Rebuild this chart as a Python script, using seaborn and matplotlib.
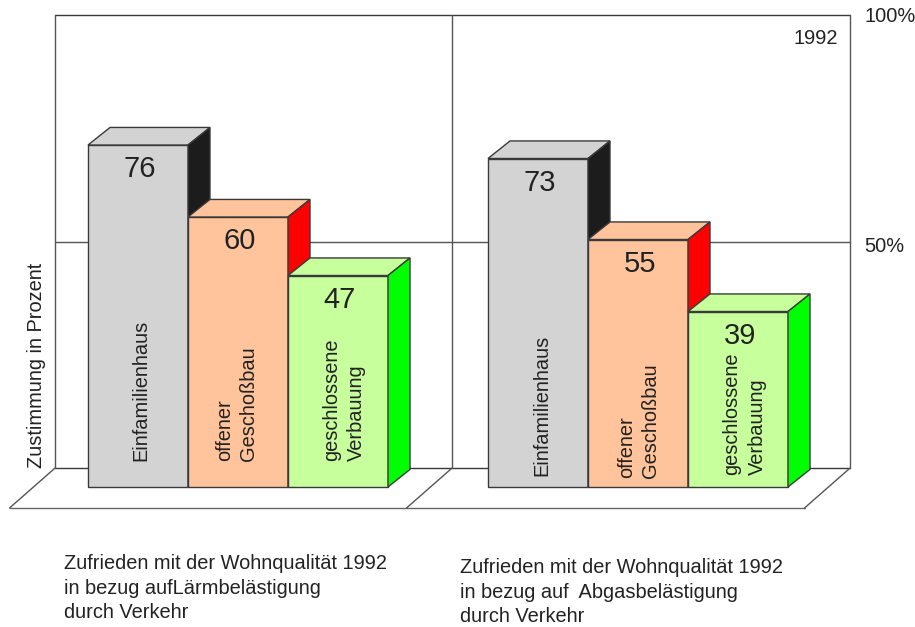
import matplotlib
matplotlib.use("Agg")
import matplotlib.pyplot as plt
from matplotlib.patches import Polygon
import seaborn as sns
import pandas as pd

positions = [0, 1, 2, 4, 5, 6]
values = [76, 60, 47, 73, 55, 39]
kinds = ["haus", "offen", "geschl", "haus", "offen", "geschl"]
bar_labels = ["Einfamilienhaus", "offener\nGeschoßbau", "geschlossene\nVerbauung",
              "Einfamilienhaus", "offener\nGeschoßbau", "geschlossene\nVerbauung"]
caption_left = "Zufrieden mit der Wohnqualität 1992\nin bezug aufLärmbelästigung\ndurch Verkehr"
caption_right = "Zufrieden mit der Wohnqualität 1992\nin bezug auf  Abgasbelästigung\ndurch Verkehr"

front_colors = {"haus": "#d3d3d3", "offen": "#ffc49c", "geschl": "#c6ff9c"}
side_colors = {"haus": "#1c1c1c", "offen": "#ff0000", "geschl": "#00ff00"}

LINE = "#3a3a3a"
TEXT = "#222222"
W, H = 915, 627
FS = 14.4

sns.set_theme(style="white")
plt.rcParams["font.family"] = ["Liberation Sans", "DejaVu Sans"]

df = pd.DataFrame({"pos": positions, "value": values, "kind": kinds})

fig = plt.figure(figsize=(W / 100, H / 100), dpi=100)
ax = fig.add_axes([0, 0, 1, 1])
sns.barplot(data=df, x="pos", y="value", hue="kind", palette=front_colors, native_scale=True,
            width=1, dodge=False, saturation=1, legend=False, edgecolor=LINE, linewidth=1, ax=ax)

# 100 px per category, 4.5 px per percent, baseline at pixel row 487
ax.set_xlim(-138 / 100, (W - 138) / 100)
ax.set_ylim((487 - H) / 4.5, 487 / 4.5)
ax.axis("off")

# back wall and floor
back_x = [-0.83, 3.14, 7.12]
floor_dx = -0.455
wall_bottom, wall_mid, wall_top, floor_front = 4.2, 54.4, 104.9, -4.67
ax.plot([back_x[0], back_x[2]], [wall_bottom] * 2, color=LINE, lw=1, zorder=1)
ax.plot([back_x[0], back_x[2]], [wall_mid] * 2, color="#555555", lw=1, zorder=1)
ax.plot([back_x[0], back_x[2]], [wall_top] * 2, color=LINE, lw=1, zorder=1)
ax.plot([back_x[0] + floor_dx, back_x[2] + floor_dx], [floor_front] * 2, color="#666666", lw=1, zorder=1)
for bx in back_x:
    ax.plot([bx, bx], [wall_bottom, wall_top], color="#555555", lw=1, zorder=1)
    ax.plot([bx, bx + floor_dx], [wall_bottom, floor_front], color="#555555", lw=1, zorder=1)

# fake 3d: top and side faces built from the bars seaborn drew
dx, dy = 0.22, 3.9
bars = sorted(ax.patches, key=lambda p: p.get_x())
for i, bar in enumerate(bars):
    x0, w, h = bar.get_x(), bar.get_width(), bar.get_height()
    x1 = x0 + w
    kind = kinds[i]
    bar.set_zorder(3 + i)
    ax.add_patch(Polygon([(x0, h), (x1, h), (x1 + dx, h + dy), (x0 + dx, h + dy)],
                         facecolor=front_colors[kind], edgecolor=LINE, lw=1, zorder=3 + i))
    ax.add_patch(Polygon([(x1, 0), (x1, h), (x1 + dx, h + dy), (x1 + dx, dy)],
                         facecolor=side_colors[kind], edgecolor=LINE, lw=1, zorder=3 + i))
    ax.text(x0 + w / 2 + 0.02, h - 5.4, str(values[i]), ha="center", va="center",
            fontsize=21, color=TEXT, zorder=20)

# rotated labels inside the bars
label_x = [141, 237, 344, 542, 639, 745]
label_bottom = [461, 461, 461, 476, 478, 475]
label_spacing = [1.3, 1.33, 1.38, 1.3, 1.33, 1.45]
for lx, ly, t, ls in zip(label_x, label_bottom, bar_labels, label_spacing):
    fig.text(lx / W, 1 - ly / H, t, rotation=90, ha="center", va="bottom", multialignment="left",
             fontsize=FS, color=TEXT, linespacing=ls, zorder=30)

fig.text(37 / W, 1 - 468 / H, "Zustimmung in Prozent", rotation=90, ha="center", va="bottom",
         fontsize=FS, color=TEXT)
fig.text(865 / W, 1 - 17 / H, "100%", ha="left", va="center", fontsize=FS, color=TEXT)
fig.text(864 / W, 1 - 246 / H, "50%", ha="left", va="center", fontsize=FS, color=TEXT)
fig.text(838 / W, 1 - 39 / H, "1992", ha="right", va="center", fontsize=FS, color=TEXT)
fig.text(64 / W, 1 - 588 / H, caption_left, ha="left", va="center", fontsize=FS, color=TEXT, linespacing=1.36)
fig.text(460 / W, 1 - 592 / H, caption_right, ha="left", va="center", fontsize=FS, color=TEXT, linespacing=1.38)

fig.savefig("out.png", dpi=100)
